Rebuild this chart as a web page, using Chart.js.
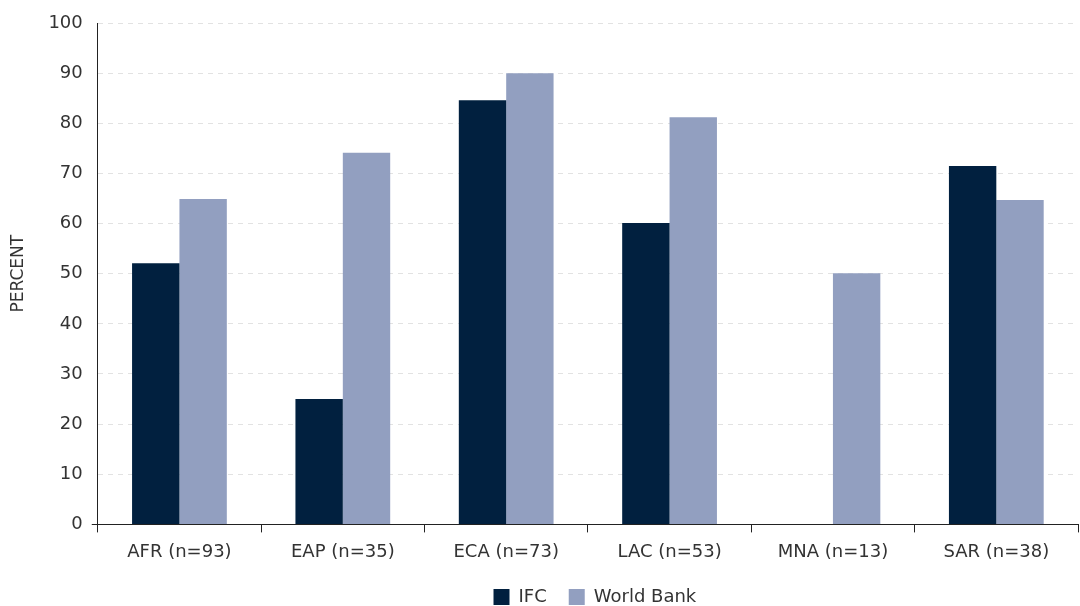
<!DOCTYPE html>
<html>
<head>
<meta charset="utf-8">
<script src="https://cdn.jsdelivr.net/npm/chart.js@4/dist/chart.umd.min.js"></script>
<style>
    html, body { margin: 0; padding: 0; background: #fff; }
    #wrap { width: 1080px; height: 606px; position: relative; }
</style>
</head>
<body>
<div id="wrap"><canvas id="chart-regiones"></canvas></div>
<script>
// Datos
const categorias = ['AFR (n=93)', 'EAP (n=35)', 'ECA (n=73)', 'LAC (n=53)', 'MNA (n=13)', 'SAR (n=38)'];
const valoresIFC = [52.1, 25.0, 84.6, 60.1, 0, 71.5];
const valoresBancoMundial = [64.9, 74.1, 90.0, 81.2, 50.1, 64.7];
const ticksY = [0, 10, 20, 30, 40, 50, 60, 70, 80, 90, 100];

const colorTexto = '#333333';
const colorEje = '#222222';
const fuente = '"DejaVu Sans", "Noto Sans", sans-serif';

Chart.defaults.font.family = fuente;
Chart.defaults.color = colorTexto;

/**
 * Centrar la leyenda bajo el área del gráfico (no bajo todo el canvas)
 */
const centrarLeyenda = {
    id: 'centrarLeyenda',
    afterLayout(chart) {
        const legend = chart.legend;
        if (!legend) return;
        const centroArea = (chart.chartArea.left + chart.chartArea.right) / 2 + 7;
        const centroLeyenda = (legend.left + legend.right) / 2;
        const desplazamiento = centroArea - centroLeyenda;
        legend.left += desplazamiento;
        legend.right += desplazamiento;
    }
};

const ctx = document.getElementById('chart-regiones').getContext('2d');

new Chart(ctx, {
    type: 'bar',
    data: {
        labels: categorias,
        datasets: [{
            label: 'IFC',
            data: valoresIFC,
            backgroundColor: '#01203f',
            borderWidth: 0
        }, {
            label: 'World Bank',
            data: valoresBancoMundial,
            backgroundColor: '#929fc0',
            borderWidth: 0
        }]
    },
    options: {
        responsive: true,
        maintainAspectRatio: false,
        animation: false,
        categoryPercentage: 0.58,
        barPercentage: 1.0,
        layout: {
            // el fondo negativo deja la leyenda pegada al borde inferior
            padding: { top: 23, right: 2, left: 8, bottom: -10 }
        },
        plugins: {
            legend: {
                position: 'bottom',
                labels: {
                    boxWidth: 16,
                    boxHeight: 16,
                    padding: 22,
                    font: { size: 18 },
                    color: colorTexto
                }
            },
            tooltip: { enabled: false }
        },
        scales: {
            x: {
                grid: {
                    display: true,
                    offset: true,
                    drawOnChartArea: false,
                    drawTicks: true,
                    tickLength: 8,
                    color: colorEje
                },
                border: { color: colorEje, width: 1 },
                ticks: {
                    font: { size: 18 },
                    color: colorTexto,
                    padding: 9
                },
                afterFit: function(scale) {
                    scale.height -= 6;
                }
            },
            y: {
                min: 0,
                max: 100,
                afterBuildTicks: function(scale) {
                    scale.ticks = ticksY.map(v => ({ value: v }));
                },
                grid: {
                    color: '#e2e2e2',
                    drawTicks: true,
                    tickLength: 6,
                    tickColor: function(context) {
                        return context.tick && context.tick.value === 0 ? colorEje : 'rgba(0,0,0,0)';
                    }
                },
                border: { color: colorEje, width: 1, dash: [5, 5] },
                ticks: {
                    font: { size: 18 },
                    color: colorTexto,
                    padding: 9
                },
                title: {
                    display: true,
                    text: 'PERCENT',
                    font: { size: 17 },
                    color: colorTexto,
                    padding: { top: 0, bottom: 11 }
                }
            }
        }
    },
    plugins: [centrarLeyenda]
});
</script>
</body>
</html>
